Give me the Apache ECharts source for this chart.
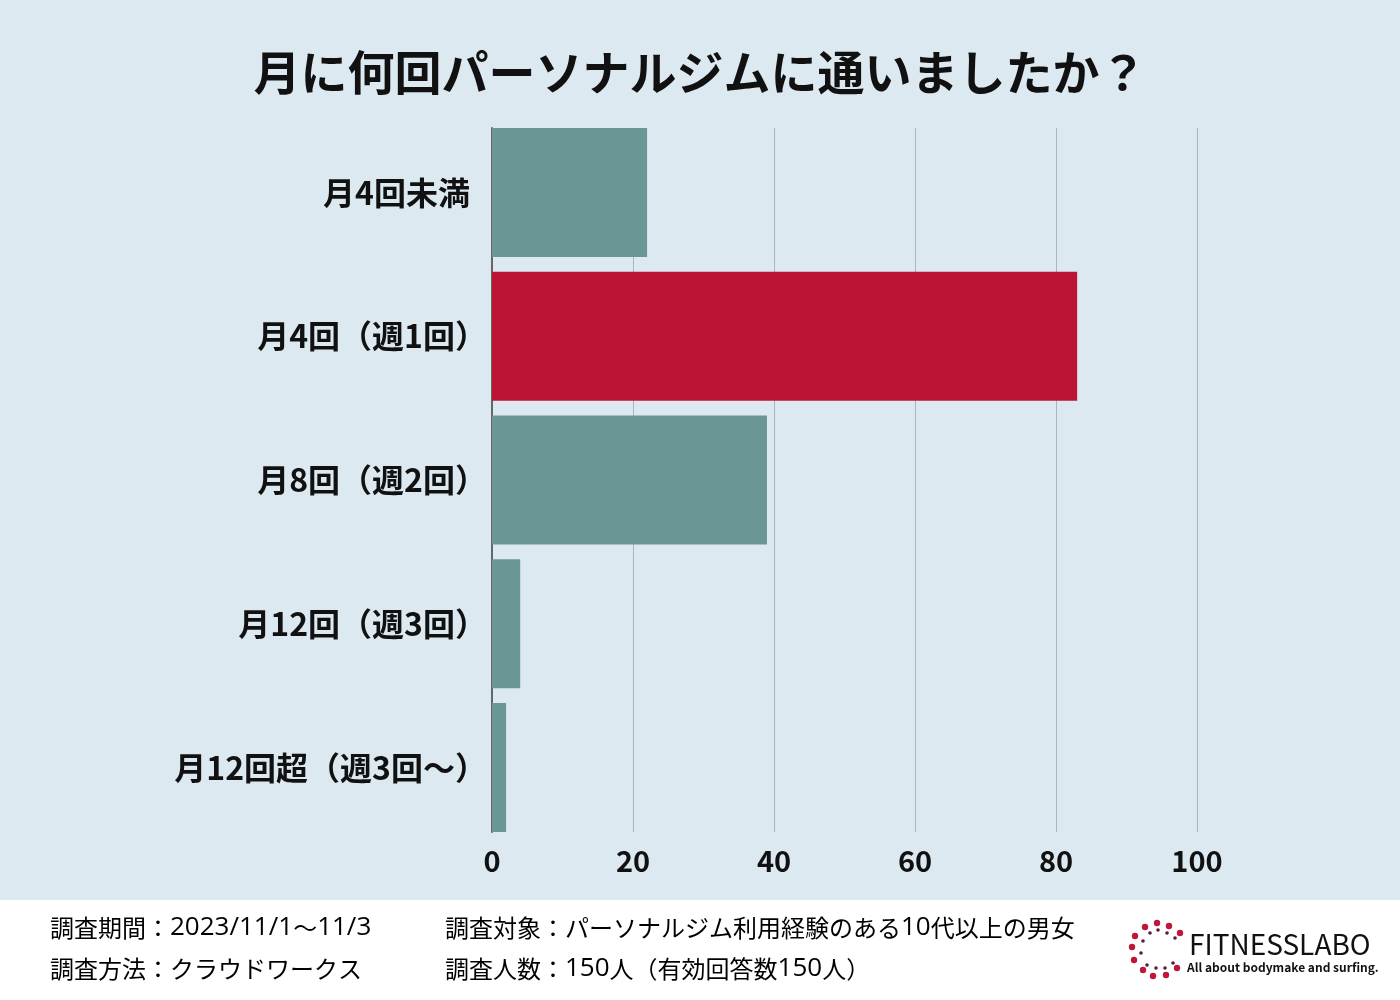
<!DOCTYPE html>
<html><head><meta charset="utf-8">
<script src="https://cdn.jsdelivr.net/npm/echarts@6/dist/echarts.min.js"></script>
<style>html,body{margin:0;padding:0;background:#dde9f0}#c{width:1400px;height:1000px}</style>
</head><body><div id="c"></div>
<script>
const categories = ['月4回未満','月4回（週1回）','月8回（週2回）','月12回（週3回）','月12回超（週3回〜）'];
const values = [22, 83, 39, 4, 2];
const highlightIndex = 1;
const xTicks = [0, 20, 40, 60, 80, 100];
const footerLines = [
  ['調査期間：2023/11/1〜11/3', '調査対象：パーソナルジム利用経験のある10代以上の男女'],
  ['調査方法：クラウドワークス', '調査人数：150人（有効回答数150人）']
];
const FONT = '"Noto Sans CJK JP","Noto Sans",sans-serif';
const chart = echarts.init(document.getElementById('c'));

function toRich(s){
  const parts = s.match(/[\x20-\x7e]+|[^\x20-\x7e]+/g) || [];
  return parts.map(p => /^[\x20-\x7e]+$/.test(p) ? '{d|'+p+'}' : '{c|'+p+'}').join('');
}
const footRich = {
  c:{fontFamily:'"Noto Sans CJK JP",sans-serif', fontSize:24, fontWeight:400, color:'#222'},
  d:{fontFamily:'"Open Sans","Noto Sans",sans-serif', fontSize:26, fontWeight:400, color:'#222'}
};

const bigDots = [[1145,927],[1157,923],[1169,926],[1180,933],[1135,936],[1132,947],[1134,960],[1143,970],[1153,976],[1166,975],[1177,968]];
const smallDots = [[1150,933],[1158,930],[1167,933],[1175,938],[1143,941],[1141,953],[1147,965],[1156,968],[1165,968],[1173,963]];
const graphics = [
  {type:'rect', shape:{x:0,y:900,width:1400,height:100}, style:{fill:'#ffffff'}, z:0},
];
footerLines.forEach((row,i)=>{
  graphics.push({type:'text', x:50, y:928+i*41, style:{text:toRich(row[0]), rich:footRich, verticalAlign:'middle'}});
  graphics.push({type:'text', x:445, y:928+i*41, style:{text:toRich(row[1]), rich:footRich, verticalAlign:'middle'}});
});
bigDots.forEach(p=>graphics.push({type:'circle', shape:{cx:p[0],cy:p[1],r:3.2}, style:{fill:'#c0163a'}}));
smallDots.forEach(p=>graphics.push({type:'circle', shape:{cx:p[0],cy:p[1],r:1.8}, style:{fill:'#5a1a3a'}}));
graphics.push({type:'text', x:1189, y:944, style:{text:'FITNESSLABO', font:'400 28px '+FONT, fill:'#111', verticalAlign:'middle'}});
graphics.push({type:'text', x:1187, y:967, style:{text:'All about bodymake and surfing.', font:'700 12px '+FONT, fill:'#111', verticalAlign:'middle'}});

const labelStyle = {fontFamily:FONT, fontWeight:'bold', fontSize:32, color:'#111'};
chart.setOption({
  backgroundColor:'#dde9f0',
  animation:false,
  title:{text:'月に何回パーソナルジムに通いましたか？', left:'center', top:44,
    textStyle:{fontFamily:FONT, fontWeight:'bold', fontSize:47, color:'#111'}},
  grid:[
    {left:492, right:203, top:128, bottom:168},
    {left:492, right:203, top:120.6, bottom:160.6}
  ],
  xAxis:[
    {gridIndex:0, type:'value', min:0, max:100, interval:20,
      axisLine:{show:false}, axisTick:{show:false},
      splitLine:{lineStyle:{color:'#a9b5bc', width:1}},
      axisLabel:{fontFamily:FONT, fontWeight:'bold', fontSize:29, color:'#111', margin:14,
        formatter:v=>xTicks.includes(v)?String(v):''}},
    {gridIndex:1, type:'value', min:0, max:100, show:false}
  ],
  yAxis:[
    {gridIndex:0, type:'category', data:categories, inverse:true,
      axisLine:{show:true, lineStyle:{color:'#666', width:2}}, axisTick:{show:false},
      axisLabel:{show:false}},
    {gridIndex:1, type:'category', data:categories, inverse:true,
      axisLine:{show:false}, axisTick:{show:false},
      axisLabel:{margin:5,
        formatter:v=> v.endsWith('）') ? '{a|'+v+'}' : '{p|'+v+'}',
        rich:{a:labelStyle, p:Object.assign({padding:[0,17,0,0]}, labelStyle)}}}
  ],
  series:[{
    type:'bar', xAxisIndex:1, yAxisIndex:1, barCategoryGap:'10.3%',
    data: values.map((v,i)=>({value:v, itemStyle:{color: i===highlightIndex?'#bb1533':'#6a9696'}})),
    z:5
  }],
  graphic:graphics
});
</script></body></html>
